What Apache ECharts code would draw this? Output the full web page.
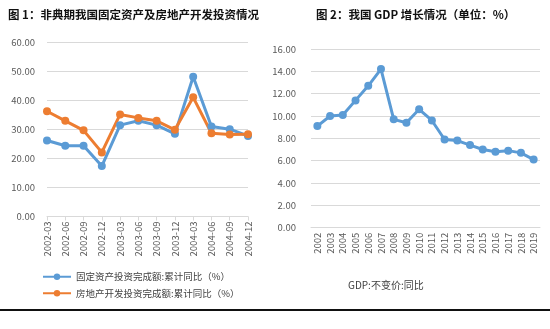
<!DOCTYPE html>
<html><head><meta charset="utf-8">
<script src="https://cdn.jsdelivr.net/npm/echarts@6/dist/echarts.min.js"></script>
<style>html,body{margin:0;padding:0;background:#fff}#c{width:550px;height:329px}</style>
</head><body><div id="c"></div>
<script>
const quarters = ['2002-03','2002-06','2002-09','2002-12','2003-03','2003-06','2003-09','2003-12','2004-03','2004-06','2004-09','2004-12'];
const fixedAsset = [26.2, 24.4, 24.4, 17.4, 31.5, 33.0, 31.5, 28.5, 48.2, 31.0, 30.1, 27.8];
const realEstate = [36.3, 33.0, 29.7, 22.1, 35.2, 34.0, 33.0, 29.9, 41.1, 28.7, 28.3, 28.4];
const years = ['2002','2003','2004','2005','2006','2007','2008','2009','2010','2011','2012','2013','2014','2015','2016','2017','2018','2019'];
const gdp = [9.1, 10.0, 10.1, 11.4, 12.7, 14.2, 9.7, 9.4, 10.6, 9.6, 7.9, 7.8, 7.4, 7.0, 6.8, 6.9, 6.7, 6.1];
const names = ['固定资产投资完成额:累计同比（%）','房地产开发投资完成额:累计同比（%）','GDP:不变价:同比'];
const titles = ['图 1：非典期我国固定资产及房地产开发投资情况','图 2：我国 GDP 增长情况（单位：%）'];

const FONT = '"Noto Sans CJK SC", "Noto Sans", sans-serif';
const BLUE = '#5B9BD5', ORANGE = '#ED7D31';
const chart = echarts.init(document.getElementById('c'), null, {renderer:'canvas'});
const axisLab = {color:'#595959', fontSize:9.5, fontFamily:FONT};
const fmt = v => v.toFixed(2);
chart.setOption({
  animation:false,
  textStyle:{fontFamily:FONT},
  title:[
    {text:titles[0], left:3, top:4, textStyle:{fontSize:11.5, fontWeight:'bold', color:'#111', fontFamily:FONT}},
    {text:titles[1], left:311, top:4, textStyle:{fontSize:11.5, fontWeight:'bold', color:'#111', fontFamily:FONT}}
  ],
  legend:{
    data:[names[0], names[1]], orient:'vertical', left:37, top:267, itemWidth:28, itemHeight:8, itemGap:7,
    textStyle:{fontSize:9.5, color:'#404040', fontFamily:FONT}
  },
  graphic:[
    {type:'text', left:348, top:280, style:{text:names[2], fontSize:10, fill:'#404040', fontFamily:FONT}},
    {type:'rect', shape:{x:0, y:309, width:550, height:2}, style:{fill:'#111'}}
  ],
  grid:[
    {left:47, right:302, top:42.5, bottom:112.5},
    {left:311, right:10, top:49, bottom:101.3}
  ],
  xAxis:[
    {type:'category', gridIndex:0, data:quarters, boundaryGap:false,
     axisLine:{lineStyle:{color:'#D9D9D9'}}, axisTick:{lineStyle:{color:'#D9D9D9'}, length:4},
     axisLabel:Object.assign({rotate:90, margin:5, interval:0}, axisLab)},
    {type:'category', gridIndex:1, data:years, boundaryGap:true,
     axisLine:{lineStyle:{color:'#D9D9D9'}}, axisTick:{lineStyle:{color:'#D9D9D9'}, length:4},
     axisLabel:Object.assign({rotate:90, margin:5, interval:0}, axisLab)}
  ],
  yAxis:[
    {type:'value', gridIndex:0, min:0, max:60, interval:10,
     axisLine:{show:false}, axisTick:{show:false},
     splitLine:{lineStyle:{color:'#D9D9D9'}},
     axisLabel:Object.assign({formatter:fmt, margin:12}, axisLab)},
    {type:'value', gridIndex:1, min:0, max:16, interval:2,
     axisLine:{show:false}, axisTick:{show:false},
     splitLine:{lineStyle:{color:'#D9D9D9'}},
     axisLabel:Object.assign({formatter:fmt, margin:15}, axisLab)}
  ],
  series:[
    {name:names[0], type:'line', xAxisIndex:0, yAxisIndex:0, data:fixedAsset, color:BLUE,
     symbol:'circle', symbolSize:8, lineStyle:{width:3}},
    {name:names[1], type:'line', xAxisIndex:0, yAxisIndex:0, data:realEstate, color:ORANGE,
     symbol:'circle', symbolSize:8, lineStyle:{width:3}},
    {name:names[2], type:'line', xAxisIndex:1, yAxisIndex:1, data:gdp, color:BLUE,
     symbol:'circle', symbolSize:8, lineStyle:{width:3}}
  ]
});
</script></body></html>
